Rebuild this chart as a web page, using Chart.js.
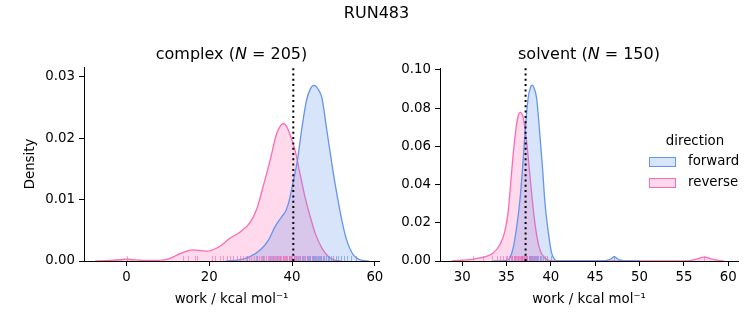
<!DOCTYPE html>
<html>
<head>
<meta charset="utf-8">
<script src="https://cdn.jsdelivr.net/npm/chart.js@4.4.0/dist/chart.umd.min.js"></script>
<style>
  body { margin: 0; background: #fff; }
  #fig { position: relative; width: 753px; height: 325px; font-family: 'DejaVu Sans', sans-serif; color: #000; overflow: hidden; }
  canvas { position: absolute; top: 0; }
  .t { position: absolute; text-align: center; white-space: nowrap; line-height: 20px; }
  .box { position: absolute; width: 25px; height: 8px; border: 1px solid; }
</style>
</head>
<body>
<div id="fig">
  <canvas id="complexChart" width="390" height="325" style="left:0"></canvas>
  <canvas id="solventChart" width="363" height="325" style="left:390px"></canvas>

  <div class="t" style="left:0;width:753px;top:3px;font-size:16px;">RUN483</div>
  <div class="t" style="left:84px;width:295px;top:44px;font-size:16px;">complex (<i>N</i> = 205)</div>
  <div class="t" style="left:440px;width:298px;top:44px;font-size:16px;">solvent (<i>N</i> = 150)</div>

  <div class="t" style="left:640px;width:110px;top:131px;font-size:13.33px;">direction</div>
  <div class="box" style="left:649px;top:157px;background:rgba(100,149,237,0.25);border-color:#6495ed;"></div>
  <div class="t" style="left:688px;top:151px;font-size:13.33px;text-align:left;">forward</div>
  <div class="box" style="left:649px;top:178px;background:rgba(255,105,180,0.25);border-color:#ff69b4;"></div>
  <div class="t" style="left:688px;top:172px;font-size:13.33px;text-align:left;">reverse</div>
</div>

<script>
// complex leg: KDE curves (work, density)
const complexFwdX = [24, 27.4, 29.8, 32.3, 34.3, 35.9, 37.5, 38.5, 39.3, 40.3, 41.3, 42.3, 43.5, 44.4, 45.3, 46.2, 47.2, 48.4, 49.6, 50.8, 52.0, 53.2, 54.8, 56.4, 58.5];
const complexFwdY = [0, 0.0002, 0.0007, 0.0018, 0.0034, 0.0056, 0.0072, 0.0082, 0.0098, 0.0130, 0.0164, 0.0213, 0.0262, 0.0280, 0.0286, 0.0281, 0.0266, 0.0213, 0.0159, 0.0110, 0.0067, 0.0034, 0.0010, 0.0002, 0];
const complexRevX = [-7.5, -4, -1.5, 0, 1.5, 4, 7, 10, 12, 14, 16, 18, 19.5, 21.5, 23, 25, 27.4, 29.8, 31.5, 33, 34.7, 36.3, 37.2, 37.9, 38.6, 39.5, 40.7, 41.9, 43.1, 44.4, 45.6, 47.2, 48.8, 50.4, 52];
const complexRevY = [0, 0.0001, 0.0002, 0.0003, 0.0002, 0.0001, 0.0001, 0.0003, 0.0009, 0.0015, 0.0018, 0.0017, 0.0016, 0.0020, 0.0026, 0.0037, 0.0047, 0.0062, 0.0085, 0.0121, 0.0164, 0.0208, 0.0220, 0.0224, 0.0220, 0.0206, 0.0181, 0.0143, 0.0105, 0.0072, 0.0045, 0.0021, 0.0007, 0.0001, 0];
const complexFwdRug = [29.0, 31.5, 33.0, 34.6, 35.4, 36.3, 37.0, 37.8, 38.5, 39.2, 39.8, 40.4, 40.9, 41.4, 41.9, 42.3, 42.7, 43.1, 43.5, 43.8, 44.1, 44.4, 44.7, 45.0, 45.3, 45.6, 45.9, 46.2, 46.5, 46.8, 47.1, 47.4, 47.8, 48.2, 48.6, 49.0, 49.5, 50.0, 50.5, 51.1, 51.8, 52.5, 53.3, 54.2, 55.5];
const complexRevRug = [0.1, 13.7, 14.9, 16.5, 17.1, 20.6, 21.4, 22.6, 23.4, 24.2, 25.0, 25.8, 26.6, 27.4, 28.1, 28.9, 29.5, 30.2, 30.8, 31.3, 31.9, 32.4, 32.8, 33.3, 33.7, 34.1, 34.5, 34.9, 35.2, 35.6, 35.9, 36.2, 36.5, 36.8, 37.1, 37.4, 37.7, 38.0, 38.3, 38.6, 38.9, 39.2, 39.5, 39.8, 40.1, 40.4, 40.8, 41.2, 41.6, 42.0, 42.5, 43.0, 43.6, 44.3, 45.1, 46.0, 47.0];
const complexMarker = 40.3;
const complexXTicks = [0, 20, 40, 60];
const complexYTicks = [0, 0.01, 0.02, 0.03];

// solvent leg
const solventFwdX = [33.5, 35.0, 35.38, 35.75, 36.13, 36.5, 36.81, 37.07, 37.44, 37.7, 37.89, 38.1, 38.39, 38.76, 39.06, 39.32, 39.7, 40.08, 40.45, 40.8, 42, 45.5, 46.3, 46.8, 47.15, 47.5, 48, 48.8, 50];
const solventFwdY = [0, 0.0003, 0.0016, 0.0068, 0.0173, 0.0313, 0.0487, 0.0661, 0.0853, 0.0908, 0.0920, 0.0905, 0.0853, 0.0661, 0.0487, 0.0313, 0.0155, 0.0042, 0.0007, 0.0001, 0, 0, 0.0003, 0.0012, 0.0023, 0.0012, 0.0003, 0, 0];
const solventRevX = [28.8, 30, 31.2, 32, 32.8, 33.5, 34.25, 34.81, 35.19, 35.46, 35.75, 36.13, 36.35, 36.54, 36.7, 36.88, 37.26, 37.63, 38.0, 38.39, 38.76, 39.32, 39.9, 41, 55.3, 56.3, 57.3, 58.3, 59.5];
const solventRevY = [0, 0.0004, 0.0009, 0.0016, 0.0025, 0.0042, 0.0085, 0.0155, 0.0260, 0.0400, 0.0557, 0.0714, 0.0765, 0.0778, 0.0772, 0.0752, 0.0627, 0.0452, 0.0277, 0.0138, 0.0059, 0.0016, 0.0002, 0, 0, 0.0008, 0.0020, 0.0008, 0];
const solventFwdRug = [35.6, 36.0, 36.3, 36.6, 36.8, 37.0, 37.2, 37.35, 37.5, 37.6, 37.7, 37.8, 37.9, 38.0, 38.1, 38.2, 38.3, 38.45, 38.6, 38.75, 38.9, 39.1, 39.3, 39.6, 40.0, 47.15];
const solventRevRug = [31.2, 32.4, 33.4, 33.9, 34.3, 34.6, 34.9, 35.1, 35.3, 35.5, 35.6, 35.8, 35.9, 36.0, 36.1, 36.2, 36.3, 36.4, 36.5, 36.6, 36.7, 36.8, 36.9, 37.0, 37.1, 37.2, 37.35, 37.5, 37.7, 37.9, 38.1, 38.4, 38.8, 39.3, 57.3];
const solventMarker = 37.15;
const solventXTicks = [30, 35, 40, 45, 50, 55, 60];
const solventYTicks = [0, 0.02, 0.04, 0.06, 0.08, 0.10];

const blue = '#6495ed', blueFill = 'rgba(100,149,237,0.25)', blueRug = 'rgba(100,149,237,0.65)';
const pink = '#ff69b4', pinkFill = 'rgba(255,105,180,0.25)', pinkRug = 'rgba(255,105,180,0.65)';
const FONT = { family: "'DejaVu Sans', sans-serif", size: 13.33 };

// rug ticks + dotted estimate line, drawn through the x scale
const overlay = {
    id: 'overlay',
    afterDatasetsDraw(chart, args, opts) {
        const { ctx, chartArea: a, scales: { x } } = chart;
        ctx.save();
        opts.rugs.forEach(r => {
            ctx.strokeStyle = r.color;
            ctx.lineWidth = 1;
            r.values.forEach(v => {
                const px = Math.round(x.getPixelForValue(v)) + 0.5;
                ctx.beginPath();
                ctx.moveTo(px, a.bottom);
                ctx.lineTo(px, a.bottom - 5);
                ctx.stroke();
            });
        });
        const mx = x.getPixelForValue(opts.marker);
        ctx.strokeStyle = '#000';
        ctx.lineWidth = 2;
        ctx.setLineDash([2, 3.3]);
        ctx.beginPath();
        ctx.moveTo(mx, a.bottom);
        ctx.lineTo(mx, a.top);
        ctx.stroke();
        ctx.restore();
    }
};

const curve = (label, xs, ys, line, fill) => ({
    label,
    data: xs.map((x, i) => ({ x, y: ys[i] })),
    borderColor: line,
    backgroundColor: fill,
    borderWidth: 1.3,
    fill: 'origin',
    pointRadius: 0,
    cubicInterpolationMode: 'monotone'
});

function makeChart(id, o) {
    return new Chart(document.getElementById(id), {
        type: 'line',
        data: {
            datasets: [
                curve('forward', o.fwdX, o.fwdY, blue, blueFill),
                curve('reverse', o.revX, o.revY, pink, pinkFill)
            ]
        },
        options: {
            responsive: false,
            animation: false,
            devicePixelRatio: 1,
            layout: { padding: { top: o.top, right: o.right, left: 0, bottom: 0 } },
            plugins: {
                legend: { display: false },
                tooltip: { enabled: false },
                overlay: {
                    marker: o.marker,
                    rugs: [{ values: o.fwdRug, color: blueRug }, { values: o.revRug, color: pinkRug }]
                }
            },
            scales: {
                x: {
                    type: 'linear',
                    min: o.xMin, max: o.xMax,
                    afterBuildTicks: s => { s.ticks = o.xTicks.map(v => ({ value: v })); },
                    afterFit: s => { s.height = 64; },
                    grid: { drawOnChartArea: false, drawTicks: true, tickLength: 5, color: '#000' },
                    border: { display: true, color: '#000', width: 1 },
                    ticks: { color: '#000', font: FONT, padding: 4, maxRotation: 0, autoSkip: false, callback: v => String(v) },
                    title: { display: true, text: 'work / kcal mol\u207B\u00B9', color: '#000', font: FONT, padding: { top: 0, bottom: 17 } }
                },
                y: {
                    min: 0, max: o.yMax,
                    afterBuildTicks: s => { s.ticks = o.yTicks.map(v => ({ value: v })); },
                    afterFit: s => { s.width = o.yWidth; },
                    grid: { drawOnChartArea: false, drawTicks: true, tickLength: 5, color: '#000' },
                    border: { display: true, color: '#000', width: 1 },
                    ticks: { color: '#000', font: FONT, padding: 4, callback: v => v.toFixed(2) },
                    title: { display: o.yTitle !== '', text: o.yTitle, color: '#000', font: FONT, padding: { top: 23, bottom: 0 } }
                }
            }
        },
        plugins: [overlay]
    });
}

makeChart('complexChart', {
    fwdX: complexFwdX, fwdY: complexFwdY, revX: complexRevX, revY: complexRevY,
    fwdRug: complexFwdRug, revRug: complexRevRug, marker: complexMarker,
    xTicks: complexXTicks, yTicks: complexYTicks,
    xMin: -10.25, xMax: 61, yMax: 0.0316,
    top: 67, right: 11, yWidth: 84, yTitle: 'Density'
});

makeChart('solventChart', {
    fwdX: solventFwdX, fwdY: solventFwdY, revX: solventRevX, revY: solventRevY,
    fwdRug: solventFwdRug, revRug: solventRevRug, marker: solventMarker,
    xTicks: solventXTicks, yTicks: solventYTicks,
    xMin: 27.5, xMax: 61.1, yMax: 0.101,
    top: 68, right: 15, yWidth: 50, yTitle: ''
});
</script>
</body>
</html>
